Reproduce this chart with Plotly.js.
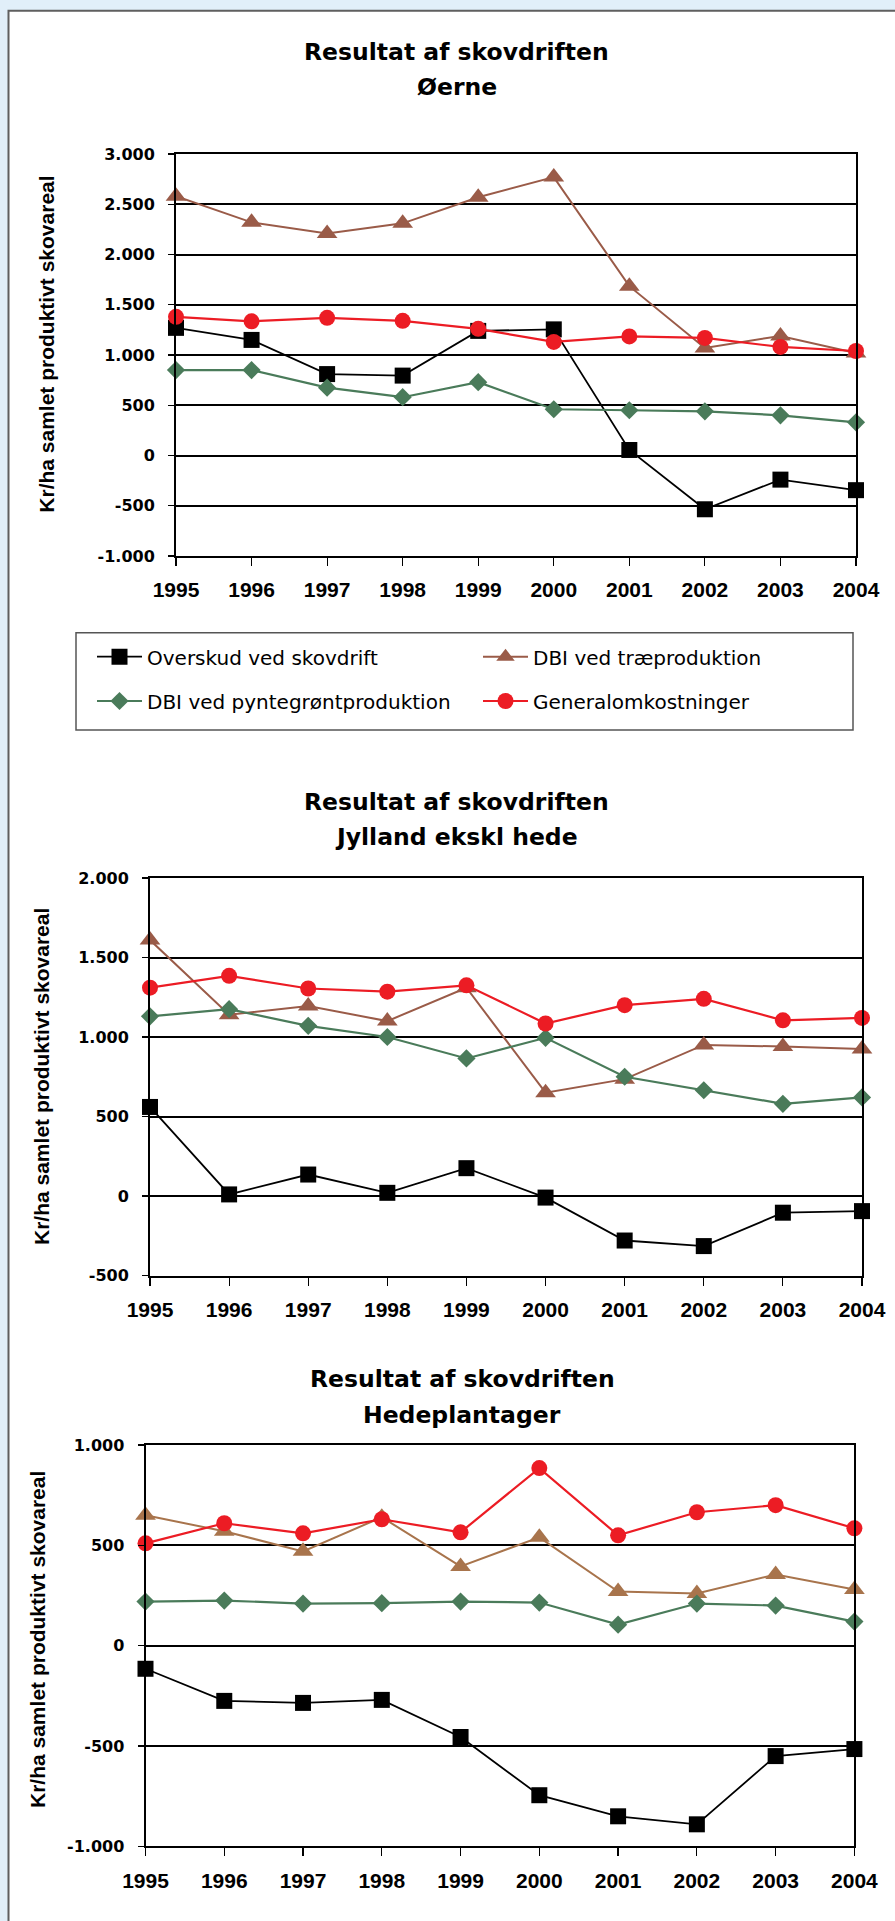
<!DOCTYPE html>
<html>
<head>
<meta charset="utf-8">
<script src="https://cdn.plot.ly/plotly-3.0.1.min.js"></script>
<style>html,body{margin:0;padding:0;background:#e1eff9;}#chart{width:895px;height:1921px;}</style>
</head>
<body>
<div id="chart"></div>
<script>
// ---------- DATA ----------
const years = [1995, 1996, 1997, 1998, 1999, 2000, 2001, 2002, 2003, 2004];
const yearLabels = ["1995", "1996", "1997", "1998", "1999", "2000", "2001", "2002", "2003", "2004"];

const seriesNames = ["Overskud ved skovdrift", "DBI ved træproduktion", "DBI ved pyntegrøntproduktion", "Generalomkostninger"];

const titleLine1 = ["Resultat af skovdriften", "Resultat af skovdriften", "Resultat af skovdriften"];
const titleLine2 = ["Øerne", "Jylland ekskl hede", "Hedeplantager"];
const yAxisTitle = "Kr/ha samlet produktivt skovareal";

// Øerne
const overskud1 = [1270, 1150, 810, 795, 1240, 1255, 55, -535, -240, -345];
const trae1     = [2580, 2320, 2210, 2310, 2570, 2770, 1685, 1070, 1190, 1020];
const pynt1     = [850, 850, 675, 580, 730, 460, 450, 440, 400, 330];
const general1  = [1380, 1335, 1370, 1340, 1260, 1130, 1185, 1170, 1080, 1040];

// Jylland ekskl hede
const overskud2 = [560, 10, 135, 20, 175, -10, -280, -315, -105, -95];
const trae2     = [1610, 1140, 1195, 1100, 1310, 650, 735, 950, 940, 925];
const pynt2     = [1130, 1175, 1070, 1000, 865, 995, 750, 665, 580, 620];
const general2  = [1310, 1385, 1305, 1285, 1325, 1085, 1200, 1240, 1105, 1120];

// Hedeplantager
const overskud3 = [-115, -275, -285, -270, -455, -745, -850, -890, -550, -515];
const trae3     = [650, 570, 470, 640, 395, 540, 270, 260, 355, 280];
const pynt3     = [220, 225, 210, 212, 220, 215, 105, 210, 200, 120];
const general3  = [510, 610, 560, 630, 565, 885, 550, 665, 700, 585];

// y tick values / labels
const yTicks1 = [-1000, -500, 0, 500, 1000, 1500, 2000, 2500, 3000];
const yLabels1 = ["-1.000", "-500", "0", "500", "1.000", "1.500", "2.000", "2.500", "3.000"];
const yTicks2 = [-500, 0, 500, 1000, 1500, 2000];
const yLabels2 = ["-500", "0", "500", "1.000", "1.500", "2.000"];
const yTicks3 = [-1000, -500, 0, 500, 1000];
const yLabels3 = ["-1.000", "-500", "0", "500", "1.000"];

// ---------- LAYOUT HELPERS ----------
const W = 895, H = 1921;
const px = x => x / W;
const py = y => 1 - y / H;

const boxes = [
  {l: 176, r: 856, t: 154, b: 556, range: [-1000, 3000], ticks: yTicks1, labels: yLabels1,
   title: [456.6, 51.7, 87], ytitle: [45.7, 344], brown: "#9a5b48"},
  {l: 150, r: 862, t: 878, b: 1275.5, range: [-500, 2000], ticks: yTicks2, labels: yLabels2,
   title: [456.6, 802, 837], ytitle: [41, 1077], brown: "#9a5b48"},
  {l: 145.5, r: 854.4, t: 1445, b: 1846.4, range: [-1000, 1000], ticks: yTicks3, labels: yLabels3,
   title: [462, 1379, 1415], ytitle: [37, 1640], brown: "#a8744c"}
];
const dataSets = [
  [overskud1, trae1, pynt1, general1],
  [overskud2, trae2, pynt2, general2],
  [overskud3, trae3, pynt3, general3]
];

const styles = [
  {symbol: "square", size: 16, lw: 1.8, color: "#000000"},
  {symbol: "triangle-up", size: 18, lw: 2, color: null},
  {symbol: "diamond", size: 14, lw: 2.2, color: "#4a7b5a"},
  {symbol: "circle", size: 16, lw: 2.2, color: "#ec1c24"}
];
const legendFor = ["legend", "legend", "legend2", "legend2"];

const traces = [];
const legendBase = {xanchor: "left", yanchor: "middle", orientation: "h",
  bgcolor: "rgba(0,0,0,0)", borderwidth: 0, itemwidth: 45,
  entrywidth: 326, entrywidthmode: "pixels",
  font: {family: "DejaVu Sans", size: 20, color: "#000000"}};
const layout = {
  width: W, height: H, autosize: false,
  margin: {l: 0, r: 0, t: 0, b: 0, pad: 0},
  paper_bgcolor: "#e1eff9",
  plot_bgcolor: "#ffffff",
  font: {family: "DejaVu Sans", color: "#000000"},
  shapes: [
    {type: "rect", xref: "paper", yref: "paper", x0: px(8.5), x1: 1.02, y0: py(10.8), y1: -0.02,
     line: {color: "#5f5f5f", width: 2}, fillcolor: "#ffffff", layer: "below"},
    {type: "rect", xref: "paper", yref: "paper", x0: px(76), x1: px(853), y0: py(632.7), y1: py(730),
     line: {color: "#555555", width: 1.5}, fillcolor: "#ffffff", layer: "below"}
  ],
  annotations: [],
  legend: Object.assign({}, legendBase, {x: px(92), y: py(656.7)}),
  legend2: Object.assign({}, legendBase, {x: px(92), y: py(701)}),
  showlegend: true
};

boxes.forEach((b, i) => {
  const n = i + 1;
  const xa = n === 1 ? "xaxis" : "xaxis" + n;
  const ya = n === 1 ? "yaxis" : "yaxis" + n;
  layout[xa] = {
    domain: [px(b.l), px(b.r)], anchor: n === 1 ? "y" : "y" + n,
    range: [1995, 2004], tickmode: "array", tickvals: years, ticktext: yearLabels,
    showline: true, mirror: true, linecolor: "#000000", linewidth: 2,
    showgrid: false, zeroline: false,
    ticks: "outside", ticklen: 8, tickwidth: 1.2, tickcolor: "#000000",
    ticklabelstandoff: 6,
    tickfont: {family: "Liberation Sans", size: 21, weight: "bold", color: "#000000"},
    fixedrange: true
  };
  layout[ya] = {
    domain: [py(b.b), py(b.t)], anchor: n === 1 ? "x" : "x" + n,
    range: b.range, tickmode: "array", tickvals: b.ticks, ticktext: b.labels,
    showline: true, mirror: true, linecolor: "#000000", linewidth: 2,
    showgrid: true, gridcolor: "#000000", gridwidth: 2, zeroline: false,
    ticks: "outside", ticklen: 6, tickwidth: 1.2, tickcolor: "#000000",
    ticklabelstandoff: 10,
    tickfont: {family: "DejaVu Sans", size: 16, weight: "bold", color: "#000000"},
    fixedrange: true
  };
  dataSets[i].forEach((vals, k) => {
    const st = styles[k];
    const col = st.color || b.brown;
    traces.push({
      type: "scatter", mode: "lines+markers",
      x: years, y: vals, name: seriesNames[k],
      xaxis: n === 1 ? "x" : "x" + n, yaxis: n === 1 ? "y" : "y" + n,
      line: {color: col, width: st.lw},
      marker: {symbol: st.symbol, size: st.size, color: col, line: {width: 0}},
      cliponaxis: false,
      showlegend: n === 1,
      legend: legendFor[k]
    });
  });
  layout.annotations.push(
    {xref: "paper", yref: "paper", x: px(b.title[0]), y: py(b.title[1]), xanchor: "center", yanchor: "middle",
     text: titleLine1[i], showarrow: false, font: {family: "DejaVu Sans", size: 23.5, weight: "bold", color: "#000000"}},
    {xref: "paper", yref: "paper", x: px(b.title[0]), y: py(b.title[2]), xanchor: "center", yanchor: "middle",
     text: titleLine2[i], showarrow: false, font: {family: "DejaVu Sans", size: 23.5, weight: "bold", color: "#000000"}},
    {xref: "paper", yref: "paper", x: px(b.ytitle[0]), y: py(b.ytitle[1]), xanchor: "center", yanchor: "middle",
     text: yAxisTitle, textangle: -90, showarrow: false,
     font: {family: "Liberation Sans", size: 21, weight: "bold", color: "#000000"}}
  );
});

Plotly.newPlot("chart", traces, layout, {staticPlot: true, displayModeBar: false});
</script>
</body>
</html>
